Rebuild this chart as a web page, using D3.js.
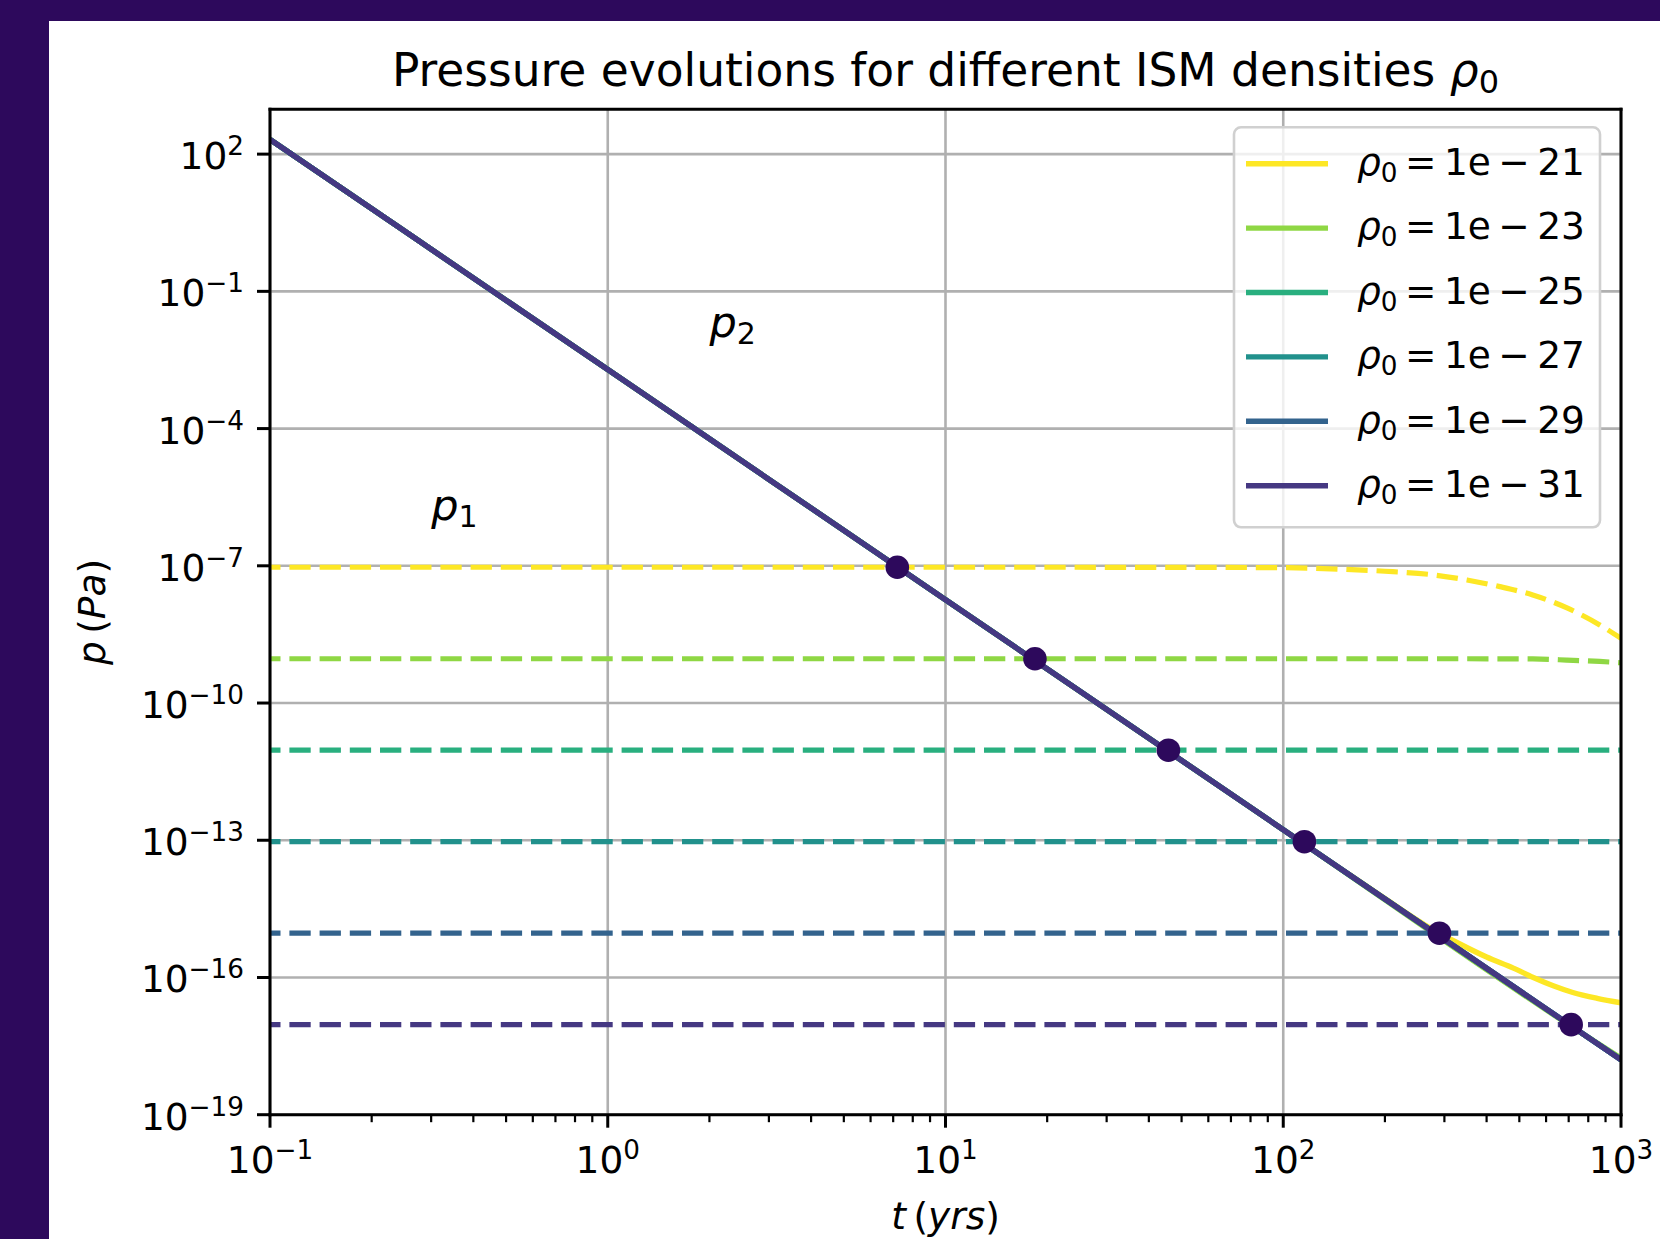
<!DOCTYPE html>
<html>
<head>
<meta charset="utf-8">
<script src="https://cdn.jsdelivr.net/npm/d3@7/dist/d3.min.js"></script>
<style>
  html, body { margin: 0; padding: 0; background: #2d095c; }
  svg { display: block; font-family: "DejaVu Sans", sans-serif; }
</style>
</head>
<body>
<svg id="chart" width="1660" height="1239"></svg>
<script>
// ---------------- data ----------------
const densityLabels = ["1e\u2009\u2212\u200921", "1e\u2009\u2212\u200923", "1e\u2009\u2212\u200925",
                       "1e\u2009\u2212\u200927", "1e\u2009\u2212\u200929", "1e\u2009\u2212\u200931"];
const seriesColors = ["#fde725", "#8fd744", "#29af7f", "#21918c", "#33638d", "#453882"];

// p2 (solid) curves, time in yrs, pressure in Pa
const p2Time_21 = [0.1, 1, 10, 100, 150, 200, 265, 330, 400, 480, 550, 630, 720, 850, 1000];
const p2Val_21  = [2.09e2, 1.95e-3, 1.82e-8, 1.70e-13, 2.22e-14, 5.3e-15, 1.35e-15, 5.6e-16, 2.8e-16, 1.6e-16, 1.0e-16, 6.6e-17, 4.7e-17, 3.5e-17, 2.8e-17];
const p2Time_23 = [0.1, 1, 10, 100, 800, 1000];
const p2Val_23  = [2.09e2, 1.95e-3, 1.82e-8, 1.70e-13, 4.9e-18, 1.72e-18];
const p2Time_25 = [0.1, 1, 10, 100, 1000];
const p2Val_25  = [2.09e2, 1.95e-3, 1.82e-8, 1.70e-13, 1.58e-18];
const p2Time_27 = [0.1, 1, 10, 100, 1000];
const p2Val_27  = [2.09e2, 1.95e-3, 1.82e-8, 1.70e-13, 1.58e-18];
const p2Time_29 = [0.1, 1, 10, 100, 1000];
const p2Val_29  = [2.09e2, 1.95e-3, 1.82e-8, 1.70e-13, 1.58e-18];
const p2Time_31 = [0.1, 1, 10, 100, 1000];
const p2Val_31  = [2.09e2, 1.95e-3, 1.82e-8, 1.70e-13, 1.58e-18];

// p1 (dashed) curves
const p1Time_21 = [0.1, 10, 50, 100, 150, 200, 277, 350, 438, 548, 692, 865, 1000];
const p1Val_21  = [9.3e-8, 9.3e-8, 9.25e-8, 9.1e-8, 8.4e-8, 7.6e-8, 6.35e-8, 4.9e-8, 3.5e-8, 2.3e-8, 1.2e-8, 5.1e-9, 2.6e-9];
const p1Time_23 = [0.1, 100, 300, 548, 690, 865, 1000];
const p1Val_23  = [9.3e-10, 9.3e-10, 9.3e-10, 9.2e-10, 8.7e-10, 8.1e-10, 7.6e-10];
const p1Time_25 = [0.1, 1000];
const p1Val_25  = [9.3e-12, 9.3e-12];
const p1Time_27 = [0.1, 1000];
const p1Val_27  = [9.3e-14, 9.3e-14];
const p1Time_29 = [0.1, 1000];
const p1Val_29  = [9.3e-16, 9.3e-16];
const p1Time_31 = [0.1, 1000];
const p1Val_31  = [9.3e-18, 9.3e-18];

// crossing points (markers)
const crossTime = [7.2, 18.4, 45.7, 115.5, 290, 712];
const crossVal  = [9.3e-8, 9.3e-10, 9.3e-12, 9.3e-14, 9.3e-16, 9.3e-18];

// ticks
const xTickValues = [0.1, 1, 10, 100, 1000];
const xTickExp    = ["\u22121", "0", "1", "2", "3"];
const yTickValues = [1e2, 1e-1, 1e-4, 1e-7, 1e-10, 1e-13, 1e-16, 1e-19];
const yTickExp    = ["2", "\u22121", "\u22124", "\u22127", "\u221210", "\u221213", "\u221216", "\u221219"];

const annotT   = [0.3, 2.0];
const annotP   = [1e-6, 1e-2];
const annotSub = ["1", "2"];

// ---------------- layout ----------------
const W = 1660, H = 1239;
const L = 270, R = 1621, T = 109.3, B = 1114.7;
const FS = 37.5;

const svg = d3.select("#chart");
svg.append("rect").attr("width", W).attr("height", H).attr("fill", "#2d095c");
svg.append("rect").attr("x", 49).attr("y", 21).attr("width", W - 49).attr("height", H - 21).attr("fill", "#ffffff");

const x = d3.scaleLog().domain([0.1, 1000]).range([L, R]);
const y = d3.scaleLog().domain([1e-19, Math.pow(10, 2.98)]).range([B, T]);

svg.append("defs").append("clipPath").attr("id", "plotclip")
  .append("rect").attr("x", L).attr("y", T).attr("width", R - L).attr("height", B - T);

// grid
const grid = svg.append("g");
grid.selectAll("line.gx").data(xTickValues).join("line")
  .attr("x1", d => x(d)).attr("x2", d => x(d)).attr("y1", T).attr("y2", B)
  .attr("stroke", "#b0b0b0").attr("stroke-width", 2.6);
grid.selectAll("line.gy").data(yTickValues).join("line")
  .attr("y1", d => y(d)).attr("y2", d => y(d)).attr("x1", L).attr("x2", R)
  .attr("stroke", "#b0b0b0").attr("stroke-width", 2.6);

// lines
const solid = [[p2Time_21, p2Val_21], [p2Time_23, p2Val_23], [p2Time_25, p2Val_25],
               [p2Time_27, p2Val_27], [p2Time_29, p2Val_29], [p2Time_31, p2Val_31]];
const dashed = [[p1Time_21, p1Val_21], [p1Time_23, p1Val_23], [p1Time_25, p1Val_25],
                [p1Time_27, p1Val_27], [p1Time_29, p1Val_29], [p1Time_31, p1Val_31]];

const line = d3.line().x(d => x(d[0])).y(d => y(d[1])).curve(d3.curveMonotoneX);
const plot = svg.append("g").attr("clip-path", "url(#plotclip)");

solid.forEach((s, i) => {
  const pts = s[0].map((t, k) => [t, s[1][k]]);
  plot.append("path").attr("d", line(pts)).attr("fill", "none")
    .attr("stroke", seriesColors[i]).attr("stroke-width", 5.4).attr("stroke-linecap", "butt");
  const dd = dashed[i];
  const dpts = dd[0].map((t, k) => [t, dd[1][k]]);
  plot.append("path").attr("d", line(dpts)).attr("fill", "none")
    .attr("stroke", seriesColors[i]).attr("stroke-width", 5.2)
    .attr("stroke-dasharray", "21.3,8.9").attr("stroke-dashoffset", 10.8);
});

// markers
plot.selectAll("circle.cross").data(crossTime).join("circle")
  .attr("cx", d => x(d)).attr("cy", (d, i) => y(crossVal[i])).attr("r", 11.8)
  .attr("fill", "#2d095c");

// annotations p1, p2
annotT.forEach((tv, i) => {
  const t = svg.append("text").attr("x", x(tv)).attr("y", y(annotP[i]))
    .attr("font-size", 43).attr("fill", "#000");
  t.append("tspan").attr("font-style", "italic").text("p");
  t.append("tspan").attr("font-size", 30).attr("dy", 7).text(annotSub[i]);
});

// spines
const sp = svg.append("g").attr("stroke", "#000").attr("stroke-width", 3).attr("stroke-linecap", "square");
sp.append("line").attr("x1", L).attr("x2", R).attr("y1", T).attr("y2", T);
sp.append("line").attr("x1", L).attr("x2", R).attr("y1", B).attr("y2", B);
sp.append("line").attr("x1", L).attr("x2", L).attr("y1", T).attr("y2", B);
sp.append("line").attr("x1", R).attr("x2", R).attr("y1", T).attr("y2", B);

// x axis ticks
const xMinor = [];
[0.1, 1, 10, 100].forEach(dec => { for (let m = 2; m <= 9; m++) xMinor.push(dec * m); });
svg.append("g").selectAll("line").data(xMinor).join("line")
  .attr("x1", d => x(d)).attr("x2", d => x(d)).attr("y1", B).attr("y2", B + 7.5)
  .attr("stroke", "#000").attr("stroke-width", 2.2);
svg.append("g").selectAll("line").data(xTickValues).join("line")
  .attr("x1", d => x(d)).attr("x2", d => x(d)).attr("y1", B).attr("y2", B + 13)
  .attr("stroke", "#000").attr("stroke-width", 3);
svg.append("g").selectAll("text").data(xTickValues).join("text")
  .attr("x", d => x(d)).attr("y", 1172.7).attr("text-anchor", "middle").attr("font-size", FS)
  .each(function(d, i) {
    const s = d3.select(this);
    s.append("tspan").text("10");
    s.append("tspan").attr("font-size", FS * 0.7).attr("dy", -14).text(xTickExp[i]);
  });

// y axis ticks
svg.append("g").selectAll("line").data(yTickValues).join("line")
  .attr("y1", d => y(d)).attr("y2", d => y(d)).attr("x1", L - 13).attr("x2", L)
  .attr("stroke", "#000").attr("stroke-width", 3);
svg.append("g").selectAll("text").data(yTickValues).join("text")
  .attr("x", 244).attr("y", d => y(d) + 15).attr("text-anchor", "end").attr("font-size", FS)
  .each(function(d, i) {
    const s = d3.select(this);
    s.append("tspan").text("10");
    s.append("tspan").attr("font-size", FS * 0.7).attr("dy", -14).text(yTickExp[i]);
  });

// title
const title = svg.append("text").attr("x", (L + R) / 2).attr("y", 86)
  .attr("text-anchor", "middle").attr("font-size", 45.5);
title.append("tspan").text("Pressure evolutions for different ISM densities ");
title.append("tspan").attr("font-style", "italic").text("\u03c1");
title.append("tspan").attr("font-size", 32).attr("dy", 7).text("0");

// axis labels
const xl = svg.append("text").attr("x", (L + R) / 2).attr("y", 1229)
  .attr("text-anchor", "middle").attr("font-size", FS);
xl.append("tspan").attr("font-style", "italic").text("t");
xl.append("tspan").text("\u2009(");
xl.append("tspan").attr("font-style", "italic").text("yrs");
xl.append("tspan").text(")");

const yl = svg.append("text").attr("transform", `translate(105,${(T + B) / 2}) rotate(-90)`)
  .attr("text-anchor", "middle").attr("font-size", FS);
yl.append("tspan").attr("font-style", "italic").text("p");
yl.append("tspan").text("\u2009(");
yl.append("tspan").attr("font-style", "italic").text("Pa");
yl.append("tspan").text(")");

// legend
const lg = svg.append("g");
lg.append("rect").attr("x", 1234).attr("y", 127.3).attr("width", 366).attr("height", 400)
  .attr("rx", 7).attr("fill", "#ffffff").attr("fill-opacity", 0.8)
  .attr("stroke", "#d0d0d0").attr("stroke-width", 2.6);
densityLabels.forEach((lab, i) => {
  const cy = 163.7 + i * 64.4;
  lg.append("line").attr("x1", 1246).attr("x2", 1328).attr("y1", cy).attr("y2", cy)
    .attr("stroke", seriesColors[i]).attr("stroke-width", 5.4);
  const t = lg.append("text").attr("x", 1357).attr("y", cy + 11.3).attr("font-size", FS);
  t.append("tspan").attr("font-style", "italic").text("\u03c1");
  t.append("tspan").attr("font-size", FS * 0.7).attr("dy", 7).text("0");
  t.append("tspan").attr("dy", -7).text("\u2009=\u2009" + lab);
});
</script>
</body>
</html>
